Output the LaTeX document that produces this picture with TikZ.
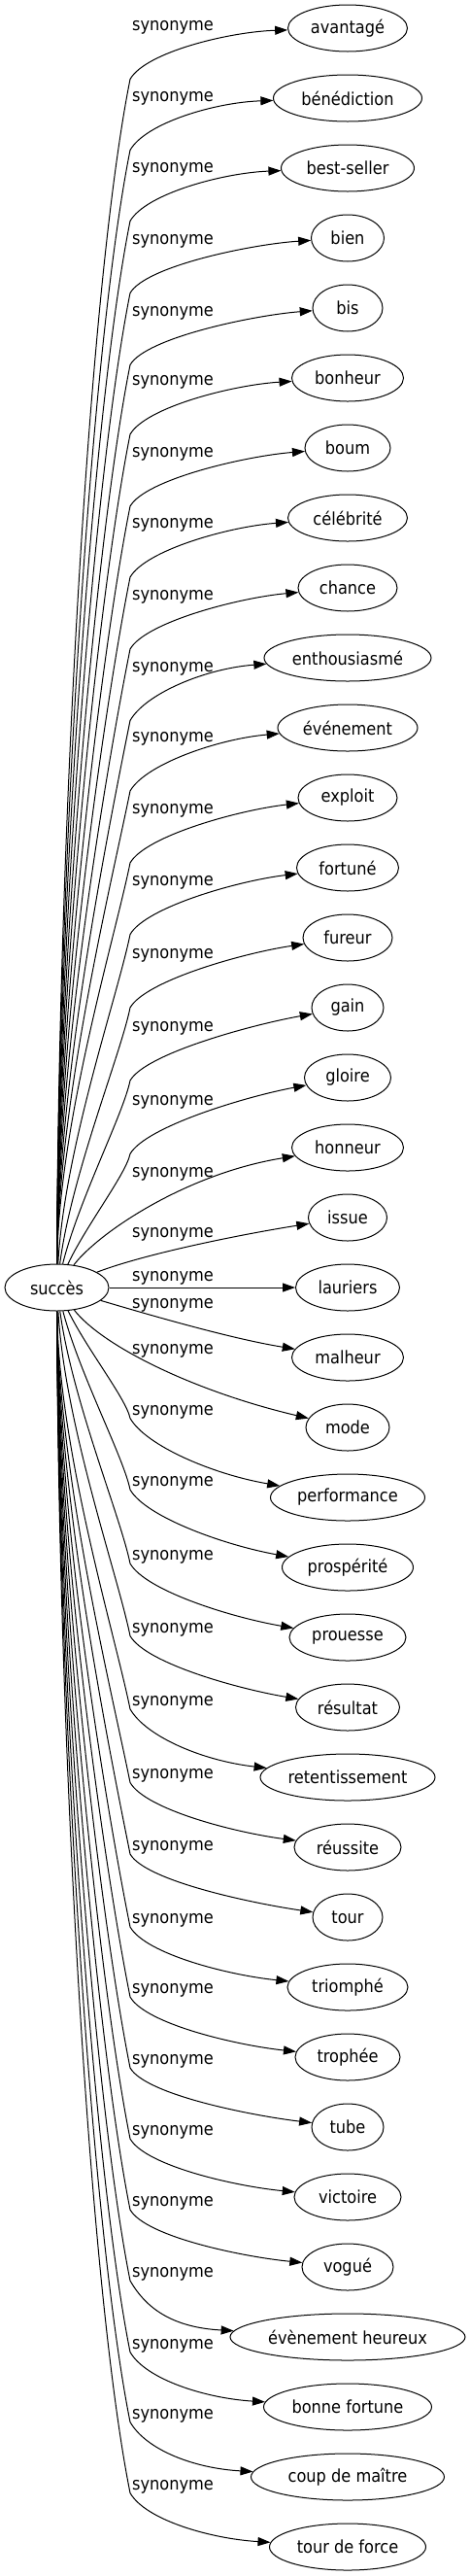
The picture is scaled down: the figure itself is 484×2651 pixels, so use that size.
\documentclass[tikz,border=0pt]{standalone}
\usepackage{fontspec}
\setmainfont{DejaVu Sans Condensed}
\usetikzlibrary{arrows.meta,shapes.geometric}
\begin{document}
\begin{tikzpicture}[x=1pt,y=-1pt,
  every node/.style={font=\fontsize{18}{21}\selectfont},
  tnode/.style={draw, ellipse, line width=1pt, minimum height=48pt, inner sep=0pt},
  lab/.style={anchor=base west, inner sep=0pt},
  conn/.style={draw, line width=1pt, -{Triangle[length=13pt,width=9pt]}}]
\useasboundingbox (0,0) rectangle (484,2651);
\node[tnode, minimum width=107pt] (root) at (58.5,1325) {succès};
\foreach \i/\t/\r/\yl in {
0/avantagé/61.5/26.5,
1/bénédiction/76.5/99.5,
2/best-seller/68.5/172.5,
3/bien/37.5/246.6,
4/bis/36/320.5,
5/bonheur/57.5/392,
6/boum/44/466,
7/célébrité/61.5/539,
8/chance/51/613,
9/enthousiasmé/86/686.5,
10/événement/72/759,
11/exploit/51/833,
12/fortuné/52.5/906.6,
13/fureur/46/982,
14/gain/37/1057,
15/gloire/44.5/1132.5,
16/honneur/57.5/1206.5,
17/issue/40.5/1268.5,
18/lauriers/53.5/1313.5,
19/malheur/57.5/1342,
20/mode/43/1389,
21/performance/79.5/1451.5,
22/prospérité/67.5/1525,
23/prouesse/60/1601,
24/résultat/53.5/1675.5,
25/retentissement/90/1750.8,
26/réussite/55/1826.4,
27/tour/36/1900,
28/triomphé/62/1975,
29/trophée/54/2047,
30/tube/37/2120,
31/victoire/55/2193,
32/vogué/47/2266,
33/évènement heureux/121/2339,
34/bonne fortune/86.5/2412.5,
35/coup de maître/99.5/2484.5,
36/tour de force/80.5/2557.5} {
  \pgfmathsetmacro\myYt{29+72*\i}
  \pgfmathsetmacro\myW{2*\r}
  \node[tnode, minimum width=\myW pt] (n\i) at (358,\myYt) {\t};
  \node[lab] (l\i) at (136,\yl+4.5) {synonyme};
  \ifnum\i<16
    \pgfmathsetmacro\myYb{\yl+55}
    \pgfmathsetmacro\myH{1301-\myYb}
    \pgfmathsetmacro\myCax{60+max(0,40-0.1*\myH)}
    \pgfmathsetmacro\myCay{1301-0.35*\myH}
    \pgfmathsetmacro\myCbx{134-0.036*\myH}
    \pgfmathsetmacro\myCby{\myYb+0.18*\myH}
    \pgfmathsetmacro\myS{4+0.6*(\myYb-\myYt-53)}
    \draw[conn] (root) .. controls (\myCax,\myCay) and (\myCbx,\myCby) .. (134,\myYb)
      .. controls (150,\myYb-28) and (298-\r,\myYt+\myS) .. (n\i);
  \fi
  \ifnum\i>20
    \pgfmathsetmacro\myYb{\yl+8}
    \pgfmathsetmacro\myH{\myYb-1349}
    \pgfmathsetmacro\myCax{60+max(0,40-0.1*\myH)}
    \pgfmathsetmacro\myCay{1349+0.35*\myH}
    \pgfmathsetmacro\myCbx{134-0.036*\myH}
    \pgfmathsetmacro\myCby{\myYb-0.18*\myH}
    \pgfmathsetmacro\myS{8+0.6*(\myYt-\myYb-55)}
    \draw[conn] (root) .. controls (\myCax,\myCay) and (\myCbx,\myCby) .. (134,\myYb)
      .. controls (150,\myYb+28) and (298-\r,\myYt-\myS) .. (n\i);
  \fi
}
\draw[conn] (root) .. controls (100,1270) and (190,1208) .. (n16);
\draw[conn] (root) .. controls (150,1290) and (250,1270) .. (n17);
\draw[conn] (root) -- (n18);
\draw[conn] (root) .. controls (160,1355) and (240,1378) .. (n19);
\draw[conn] (root) .. controls (105,1385) and (200,1432) .. (n20);
\end{tikzpicture}
\end{document}
